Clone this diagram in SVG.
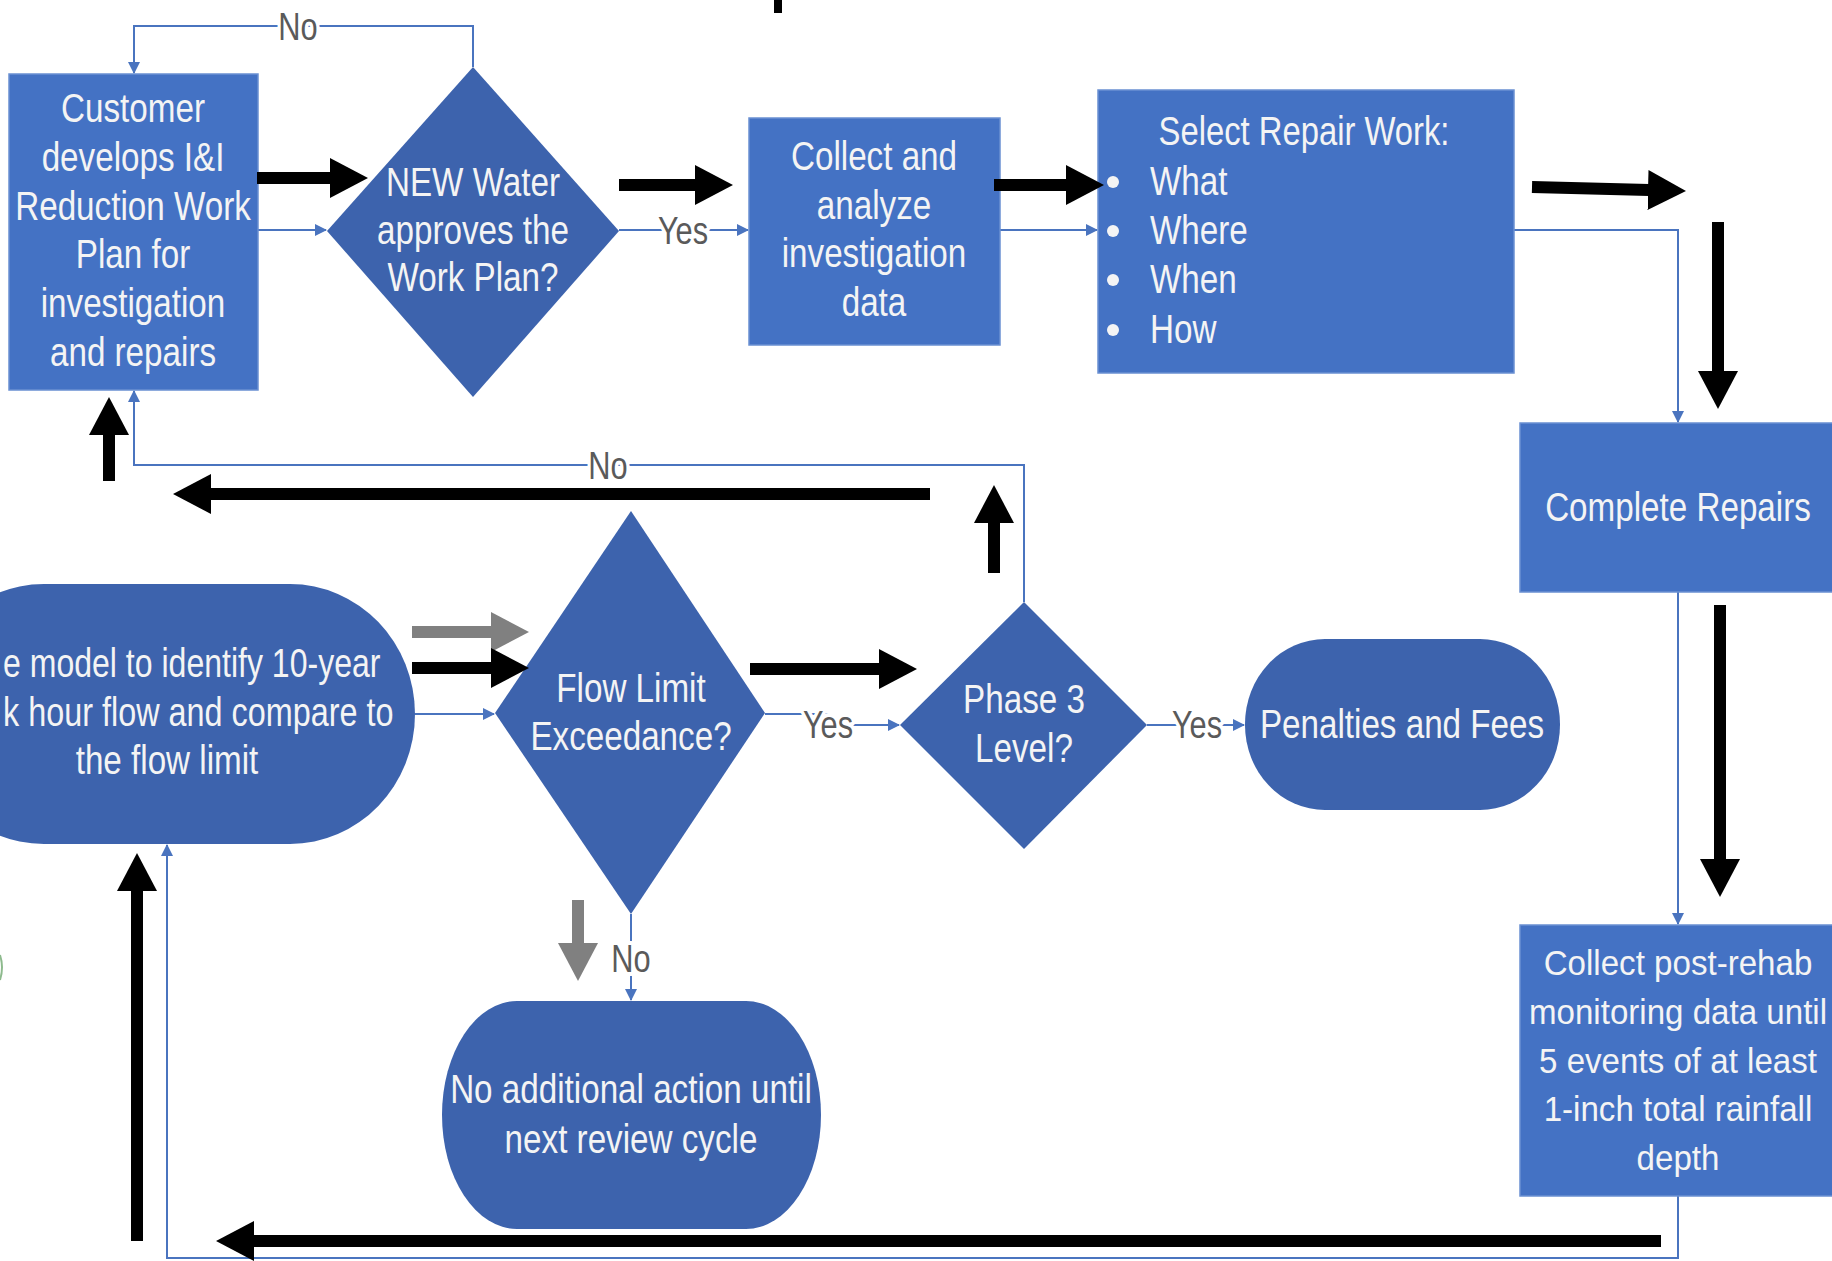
<svg xmlns="http://www.w3.org/2000/svg" width="1832" height="1261" viewBox="0 0 1832 1261">
  <defs>
    <style>
      .box { fill: #4472C4; stroke: #6A90D2; stroke-width: 1.5; }
      .dec { fill: #3D63AD; }
      .lbl { font-family: "Liberation Sans", Arial, sans-serif; font-size: 41px; fill: #F4F4F4; text-anchor: middle; }
      .lbl2 { font-family: "Liberation Sans", Arial, sans-serif; font-size: 36px; fill: #F4F4F4; text-anchor: middle; }
      .edge { fill: none; stroke: #4A74BF; stroke-width: 2; }
      .elbl { font-family: "Liberation Sans", Arial, sans-serif; font-size: 38px; fill: #5A5A5A; text-anchor: middle; stroke: #FFFFFF; stroke-width: 8; paint-order: stroke; stroke-linejoin: round; }
      .big { fill: none; stroke: #000000; stroke-width: 12; }
      .big-grey { fill: none; stroke: #808080; stroke-width: 12; }
    </style>
    <marker id="tip" markerUnits="userSpaceOnUse" markerWidth="12" markerHeight="12" refX="11" refY="6" orient="auto">
      <path d="M0,0 L12,6 L0,12 z" fill="#4A74BF"/>
    </marker>
    <marker id="head" markerUnits="userSpaceOnUse" markerWidth="40" markerHeight="42" refX="1" refY="21" orient="auto">
      <path d="M0,1 L38,21 L0,41 z" fill="#000000"/>
    </marker>
    <marker id="head-grey" markerUnits="userSpaceOnUse" markerWidth="40" markerHeight="42" refX="1" refY="21" orient="auto">
      <path d="M0,1 L38,21 L0,41 z" fill="#808080"/>
    </marker>
  </defs>

  <rect width="1832" height="1261" fill="#FFFFFF"/>

  <!-- connectors -->
  <g id="connectors">
    <path class="edge" d="M258,230 H326" marker-end="url(#tip)"/>
    <path class="edge" d="M473,67 V26 H134 V73" marker-end="url(#tip)"/>
    <text class="elbl" transform="translate(298 40) scale(0.81 1)">No</text>
    <path class="edge" d="M619,230 H748" marker-end="url(#tip)"/>
    <text class="elbl" transform="translate(683 244) scale(0.81 1)">Yes</text>
    <path class="edge" d="M1000,230 H1097" marker-end="url(#tip)"/>
    <path class="edge" d="M1514,230 H1678 V422" marker-end="url(#tip)"/>
    <path class="edge" d="M1678,592 V924" marker-end="url(#tip)"/>
    <path class="edge" d="M1678,1196 V1258 H167 V845" marker-end="url(#tip)"/>
    <path class="edge" d="M415,714 H494" marker-end="url(#tip)"/>
    <path class="edge" d="M765,714 H828 V725 H899" marker-end="url(#tip)"/>
    <text class="elbl" transform="translate(828 738) scale(0.81 1)">Yes</text>
    <path class="edge" d="M1147,725 H1244" marker-end="url(#tip)"/>
    <text class="elbl" transform="translate(1197 738) scale(0.81 1)">Yes</text>
    <path class="edge" d="M1024,602 V465 H134 V391" marker-end="url(#tip)"/>
    <text class="elbl" transform="translate(608 479) scale(0.81 1)">No</text>
    <path class="edge" d="M631,914 V1000" marker-end="url(#tip)"/>
    <text class="elbl" transform="translate(631 972) scale(0.81 1)">No</text>
  </g>

  <!-- work plan -->
  <g id="work-plan">
    <rect class="box" x="9" y="74" width="249" height="316"/>
    <g transform="translate(133 0) scale(0.81 1)">
      <text class="lbl" x="0" y="122">Customer</text>
      <text class="lbl" x="0" y="171">develops I&amp;I</text>
      <text class="lbl" x="0" y="220">Reduction Work</text>
      <text class="lbl" x="0" y="268">Plan for</text>
      <text class="lbl" x="0" y="317">investigation</text>
      <text class="lbl" x="0" y="366">and repairs</text>
    </g>
  </g>

  <g id="approval">
    <polygon class="dec" points="473,67 619,231 473,397 327,231"/>
    <g transform="translate(473 0) scale(0.81 1)">
      <text class="lbl" x="0" y="196">NEW Water</text>
      <text class="lbl" x="0" y="244">approves the</text>
      <text class="lbl" x="0" y="291">Work Plan?</text>
    </g>
  </g>

  <g id="collect-data">
    <rect class="box" x="749" y="118" width="251" height="227"/>
    <g transform="translate(874 0) scale(0.81 1)">
      <text class="lbl" x="0" y="170">Collect and</text>
      <text class="lbl" x="0" y="219">analyze</text>
      <text class="lbl" x="0" y="267">investigation</text>
      <text class="lbl" x="0" y="316">data</text>
    </g>
  </g>

  <g id="select-work">
    <rect class="box" x="1098" y="90" width="416" height="283"/>
    <g transform="translate(1304 0) scale(0.8 1)">
      <text class="lbl" x="0" y="145">Select Repair Work:</text>
    </g>
    <g fill="#F4F4F4">
      <circle cx="1113" cy="182" r="6"/>
      <circle cx="1113" cy="231" r="6"/>
      <circle cx="1113" cy="280" r="6"/>
      <circle cx="1113" cy="330" r="6"/>
    </g>
    <g transform="translate(1150 0) scale(0.81 1)">
      <text class="lbl" x="0" y="195" style="text-anchor:start">What</text>
      <text class="lbl" x="0" y="244" style="text-anchor:start">Where</text>
      <text class="lbl" x="0" y="293" style="text-anchor:start">When</text>
      <text class="lbl" x="0" y="343" style="text-anchor:start">How</text>
    </g>
  </g>

  <g id="complete-repairs">
    <rect class="box" x="1520" y="423" width="320" height="169"/>
    <g transform="translate(1678 0) scale(0.81 1)">
      <text class="lbl" x="0" y="521">Complete Repairs</text>
    </g>
  </g>

  <g id="post-rehab">
    <rect class="box" x="1520" y="925" width="320" height="271"/>
    <g transform="translate(1678 0) scale(0.92 1)">
      <text class="lbl2" x="0" y="975">Collect post-rehab</text>
      <text class="lbl2" x="0" y="1024">monitoring data until</text>
      <text class="lbl2" x="0" y="1073">5 events of at least</text>
      <text class="lbl2" x="0" y="1121">1-inch total rainfall</text>
      <text class="lbl2" x="0" y="1170">depth</text>
    </g>
  </g>

  <g id="model-flow">
    <rect class="dec" x="-81" y="584" width="496" height="260" rx="125" ry="130"/>
    <g transform="translate(3 0) scale(0.81 1)">
      <text class="lbl" x="0" y="677" style="text-anchor:start" textLength="466" lengthAdjust="spacingAndGlyphs">e model to identify 10-year</text>
      <text class="lbl" x="0" y="726" style="text-anchor:start" textLength="482" lengthAdjust="spacingAndGlyphs">k hour flow and compare to</text>
    </g>
    <g transform="translate(167 0) scale(0.81 1)">
      <text class="lbl" x="0" y="774">the flow limit</text>
    </g>
  </g>

  <g id="flow-exceedance">
    <polygon class="dec" points="631,511 765,713 631,914 495,713"/>
    <g transform="translate(631 0) scale(0.81 1)">
      <text class="lbl" x="0" y="702">Flow Limit</text>
      <text class="lbl" x="0" y="750">Exceedance?</text>
    </g>
  </g>

  <g id="phase-3">
    <polygon class="dec" points="1024,602 1147,725 1024,849 900,725"/>
    <g transform="translate(1024 0) scale(0.81 1)">
      <text class="lbl" x="0" y="713">Phase 3</text>
      <text class="lbl" x="0" y="762">Level?</text>
    </g>
  </g>

  <g id="penalties">
    <rect class="dec" x="1245" y="639" width="315" height="171" rx="80" ry="85"/>
    <g transform="translate(1402 0) scale(0.81 1)">
      <text class="lbl" x="0" y="738">Penalties and Fees</text>
    </g>
  </g>

  <g id="no-action">
    <rect class="dec" x="442" y="1001" width="379" height="228" rx="75" ry="114"/>
    <g transform="translate(631 0) scale(0.81 1)">
      <text class="lbl" x="0" y="1103">No additional action until</text>
      <text class="lbl" x="0" y="1153">next review cycle</text>
    </g>
  </g>

  <!-- heavy flow-direction arrows -->
  <g id="direction-arrows">
    <path class="big" d="M257,178 L331,178" marker-end="url(#head)"/>
    <path class="big" d="M619,185 L696,185" marker-end="url(#head)"/>
    <path class="big" d="M994,185 L1067,185" marker-end="url(#head)"/>
    <path class="big" d="M1532,187 L1649,190" marker-end="url(#head)"/>
    <path class="big" d="M1718,222 L1718,372" marker-end="url(#head)"/>
    <path class="big" d="M1720,605 L1720,860" marker-end="url(#head)"/>
    <path class="big" d="M1661,1241 L253,1241" marker-end="url(#head)"/>
    <path class="big" d="M137,1241 L137,890" marker-end="url(#head)"/>
    <path class="big" d="M930,494 L210,494" marker-end="url(#head)"/>
    <path class="big" d="M109,481 L109,434" marker-end="url(#head)"/>
    <path class="big" d="M994,573 L994,522" marker-end="url(#head)"/>
    <path class="big-grey" d="M412,632 L492,632" marker-end="url(#head-grey)"/>
    <path class="big" d="M412,668 L492,668" marker-end="url(#head)"/>
    <path class="big" d="M750,669 L880,669" marker-end="url(#head)"/>
    <path class="big-grey" d="M578,900 L578,944" marker-end="url(#head-grey)"/>
    <rect x="774" y="0" width="8" height="13" fill="#000000"/>
  </g>

  <path d="M0,955 Q4,967 0,980" fill="none" stroke="#8DBA8D" stroke-width="2"/>
</svg>
